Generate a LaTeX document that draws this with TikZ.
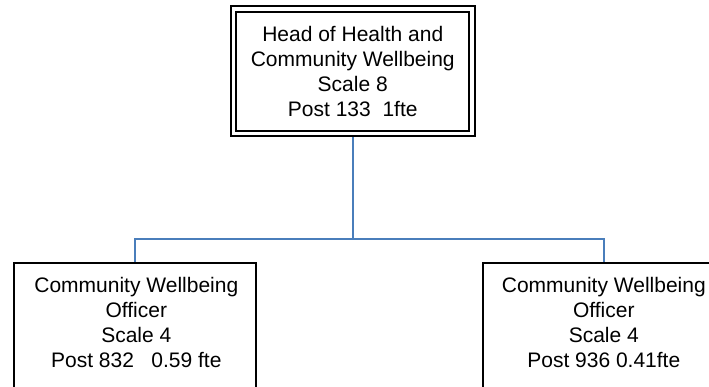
\documentclass[tikz,border=0pt]{standalone}
\usepackage{fontspec}
\setmainfont{Liberation Sans}
\definecolor{linkblue}{RGB}{74,126,187}
\tikzset{
  orgtext/.style={align=center, inner sep=0pt, font=\fontsize{21}{25}\selectfont},
  headbox/.style={draw=black, double=white, line width=1.8pt, double distance=3.7pt,
                  minimum width=238.5pt, minimum height=124.5pt, inner sep=0pt},
  staffbox/.style={draw=black, line width=1.6pt, fill=white,
                   minimum width=242pt, minimum height=160pt, inner sep=0pt, anchor=north west},
  link/.style={draw=linkblue, line width=1.6pt}
}
\begin{document}
\begin{tikzpicture}[x=1pt,y=1pt]
  \useasboundingbox (0,0) rectangle (709,387);
  \clip (0,0) rectangle (709,387);

  % head of department
  \node[headbox, orgtext] (head) at (352.75,315.75)
    {Head of Health and\\Community Wellbeing\\Scale 8\\Post 133\ \ 1fte};

  % officer posts
  \node[staffbox] (officerA) at (13,125) {};
  \node[orgtext, anchor=north] (officerAtext) at ([xshift=1.5pt,yshift=-15pt]officerA.north)
    {Community Wellbeing\\Officer\\Scale 4\\Post 832\ \ \ 0.59 fte};

  \node[staffbox] (officerB) at (482,125) {};
  \node[orgtext, anchor=north] (officerBtext) at ([yshift=-15pt]officerB.north)
    {Community Wellbeing\\Officer\\Scale 4\\Post 936 0.41fte};

  % reporting lines
  \coordinate (bus) at ([yshift=-104.5pt]head.south);
  \draw[link, shorten <=2.75pt] (head.south) -- (bus);
  \draw[link] (bus) -| (officerA.north);
  \draw[link] (bus) -| (officerB.north);
\end{tikzpicture}
\end{document}
